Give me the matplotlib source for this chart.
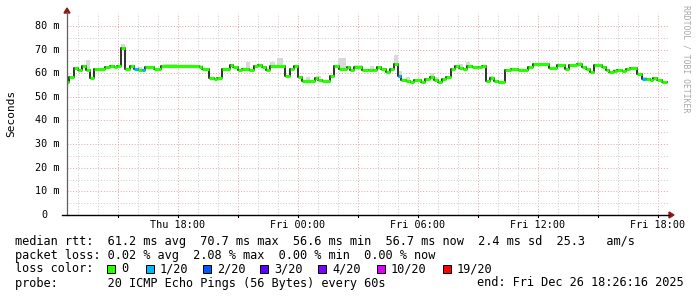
import numpy as np
import matplotlib.pyplot as plt
from matplotlib.patches import Rectangle, Polygon
from matplotlib.transforms import blended_transform_factory

W, H = 697, 297
MONO = "DejaVu Sans Mono"

# median rtt, one step per row: start hour (0 = Thu 00:00), ms, lost pings of 20
step_start = [12.45, 12.55, 12.8, 13.0, 13.2, 13.4, 13.6, 13.8, 14.35, 14.6,
              14.8, 14.95, 15.15, 15.35, 15.6, 15.8, 16.0, 16.2, 16.35, 16.8,
              17.15, 19.05, 19.2, 19.55, 19.8, 19.95, 20.2, 20.6, 20.75, 21.0,
              21.2, 21.55, 21.8, 22.0, 22.2, 22.4, 22.6, 23.35, 23.6, 23.8,
              24.0, 24.2, 24.85, 25.0, 25.2, 25.6, 25.8, 26.05, 26.45, 26.6,
              26.8, 27.2, 27.5, 27.75, 27.95, 28.15, 28.4, 28.6, 28.8, 29.0,
              29.15, 29.4, 29.6, 29.8, 30.15, 30.35, 30.6, 30.8, 31.0, 31.2,
              31.4, 31.65, 31.85, 32.05, 32.25, 32.45, 32.7, 33.0, 33.2, 33.4,
              33.6, 33.8, 34.0, 34.35, 34.65, 35.0, 35.5, 35.75, 36.55, 36.95,
              37.35, 37.55, 37.95, 38.2, 38.4, 38.6, 38.8, 39.2, 39.4, 39.55,
              39.8, 39.95, 40.2, 40.4, 40.6, 40.95, 41.2, 41.4, 41.6, 41.75,
              41.95, 42.2]
step_end = 42.45
median_ms = [56.5, 58.6, 62.2, 61.2, 63.1, 61.2, 57.9, 61.7, 62.6, 63.1,
             62.6, 63.1, 70.6, 62.0, 63.1, 62.0, 61.4, 61.4, 62.8, 61.7,
             63.1, 62.8, 61.7, 57.9, 57.6, 57.9, 61.7, 63.4, 62.8, 61.2,
             62.0, 61.2, 63.1, 63.5, 62.6, 61.2, 63.1, 58.9, 62.0, 63.1,
             58.2, 56.6, 57.9, 57.2, 56.6, 58.9, 63.1, 62.0, 62.6, 61.4,
             62.6, 61.3, 61.2, 61.4, 62.8, 62.0, 60.5, 62.0, 63.9, 58.9,
             57.3, 56.9, 56.4, 57.2, 56.4, 57.5, 58.2, 57.2, 56.4, 57.7,
             58.6, 62.0, 63.1, 62.3, 61.7, 63.1, 62.6, 62.8, 63.1, 56.8,
             57.9, 56.8, 56.4, 61.4, 62.0, 61.2, 62.6, 63.8, 62.3, 63.4,
             62.0, 63.4, 64.0, 62.8, 62.0, 60.7, 63.4, 62.6, 61.2, 60.7,
             61.0, 61.4, 60.9, 61.7, 62.3, 59.7, 57.7, 57.7, 57.2, 58.0,
             57.2, 56.3]
lost = [0] * len(step_start)
for h in [15.8, 16.2, 29.0, 41.2]:
    lost[step_start.index(h)] = 1

# smoke (ping spread) patches
smoke_from = [13.4, 15.15, 16.0, 17.35, 19.05, 21.4, 22.6, 22.95, 24.4, 24.9,
              26.0, 26.8, 27.6, 28.8, 29.0, 29.4, 30.6, 30.8, 32.05, 32.4,
              33.55, 37.95, 39.75, 41.2]
smoke_to = [13.6, 15.35, 16.2, 17.95, 19.25, 21.6, 22.85, 23.25, 24.6, 25.15,
            26.4, 27.2, 27.8, 29.0, 29.2, 29.6, 30.8, 31.0, 32.25, 32.6,
            33.75, 38.2, 39.95, 41.45]
smoke_lo = [61.2, 70.6, 61.4, 63.1, 62.8, 62.0, 63.1, 63.1, 56.6, 57.9,
            62.0, 62.6, 61.2, 63.9, 58.9, 56.9, 58.2, 57.2, 62.3, 63.1,
            57.9, 64.0, 61.0, 57.7]
smoke_hi = [65.7, 72.3, 62.6, 63.9, 63.6, 64.8, 64.8, 66.5, 58.4, 59.0,
            66.5, 63.5, 63.0, 67.7, 61.0, 58.4, 60.0, 58.4, 63.9, 64.8,
            58.8, 64.8, 62.0, 58.6]

ytick_ms = [0, 10, 20, 30, 40, 50, 60, 70, 80]
ytick_labels = ["0", "10 m", "20 m", "30 m", "40 m", "50 m", "60 m", "70 m", "80 m"]
xtick_hours = [18, 24, 30, 36, 42]
xtick_labels = ["Thu 18:00", "Fri 00:00", "Fri 06:00", "Fri 12:00", "Fri 18:00"]

loss_levels = [0, 1, 2, 3, 4, 10, 19]
loss_labels = ["0", "1/20", "2/20", "3/20", "4/20", "10/20", "19/20"]
loss_colors = ["#26ff00", "#00b8ff", "#0059ff", "#5e00ff", "#7e00ff", "#dd00ff", "#ff0000"]


def fx(px):
    return px / W


def fy(py):
    return 1 - py / H


def loss_color(n):
    c = loss_colors[0]
    for lv, col in zip(loss_levels, loss_colors):
        if n >= lv:
            c = col
    return c


fig = plt.figure(figsize=(W / 100, H / 100), dpi=100)
fig.patch.set_facecolor("white")
ax = fig.add_axes([fx(67), fy(215), fx(668) - fx(67), fy(13) - fy(215)])
ax.set_xlim(12.45, 42.5)
ax.set_ylim(0, 85.5)
ax.set_axis_off()

# grid
MAJ, MIN = "#e3a6a6", "#cdcdcd"
for h in range(13, 43):
    ax.axvline(h, color=MAJ if h % 3 == 0 else MIN, lw=0.72,
               dashes=(1.0, 1.8), zorder=0)
for v in range(5, 85, 5):
    ax.axhline(v, color=MAJ if v % 10 == 0 else MIN, lw=0.72,
               dashes=(1.0, 1.8), zorder=0)

# smoke
sf = np.array(smoke_from)
ax.bar(sf, np.array(smoke_hi) - np.array(smoke_lo), width=np.array(smoke_to) - sf,
       bottom=smoke_lo, align="edge", color="#d9d9d9", linewidth=0, zorder=1)

# median line
xs = step_start + [step_end]
ys = median_ms + [median_ms[-1]]
ax.step(xs, ys, where="post", color="#202020", lw=1.3, zorder=2)
ends = step_start[1:] + [step_end]
ax.hlines(median_ms, step_start, ends, colors=[loss_color(n) for n in lost],
          lw=2.3, capstyle="butt", zorder=3)

# axes lines and arrows
fig.add_artist(plt.Line2D([fx(67), fx(67)], [fy(215), fy(12)], color="#606060", lw=0.9))
fig.add_artist(plt.Line2D([fx(62), fx(669)], [fy(215), fy(215)], color="black", lw=1.0))
fig.add_artist(Polygon([[fx(64), fy(13)], [fx(70), fy(13)], [fx(67), fy(8)]],
                       closed=True, color="#8b1a1a", transform=fig.transFigure))
fig.add_artist(Polygon([[fx(669), fy(212)], [fx(669), fy(218)], [fx(674), fy(215)]],
                       closed=True, color="#8b1a1a", transform=fig.transFigure))
for h in range(15, 43, 3):
    ax.plot([h, h], [0, -1.0], color="black", lw=0.8, clip_on=False)

# tick labels
ty = blended_transform_factory(fig.transFigure, ax.transData)
for v, lab in zip(ytick_ms, ytick_labels):
    x0 = 35 if lab != "0" else 41
    ax.text(fx(x0), v, lab, transform=ty, ha="left", va="center",
            family=MONO, fontsize=7.3)
tx = blended_transform_factory(ax.transData, fig.transFigure)
for h, lab in zip(xtick_hours, xtick_labels):
    ax.text(h, fy(224.5), lab, transform=tx, ha="center", va="center",
            family=MONO, fontsize=7.3)

fig.text(fx(11), fy(113), "Seconds", rotation=90, ha="center", va="center",
         family=MONO, fontsize=8)
fig.text(fx(686), fy(5), "RRDTOOL / TOBI OETIKER", rotation=270, ha="center",
         va="top", family=MONO, fontsize=5.9, color="#a8a8a8")

# legend
fs = 8.55
fig.text(fx(15), fy(241), "median rtt:  61.2 ms avg  70.7 ms max  56.6 ms min  "
         "56.7 ms now  2.4 ms sd  25.3   am/s", ha="left", va="center",
         family=MONO, fontsize=fs)
fig.text(fx(15), fy(255), "packet loss: 0.02 % avg  2.08 % max  0.00 % min  0.00 % now",
         ha="left", va="center", family=MONO, fontsize=fs)
fig.text(fx(15), fy(269), "loss color:", ha="left", va="center", family=MONO, fontsize=fs)
box_px = [107, 146, 203, 260, 318, 377, 443]
for bx, lab, col in zip(box_px, loss_labels, loss_colors):
    fig.add_artist(Rectangle((fx(bx), fy(273)), 8 / W, 8 / H, facecolor=col,
                             edgecolor="black", lw=0.7, transform=fig.transFigure))
    fig.text(fx(bx + 14), fy(269), lab, ha="left", va="center", family=MONO, fontsize=fs)
fig.text(fx(15), fy(283), "probe:       20 ICMP Echo Pings (56 Bytes) every 60s",
         ha="left", va="center", family=MONO, fontsize=fs)
fig.text(fx(477), fy(283), "end: Fri Dec 26 18:26:16 2025", ha="left", va="center",
         family=MONO, fontsize=fs)

fig.savefig("out.png", dpi=100)
